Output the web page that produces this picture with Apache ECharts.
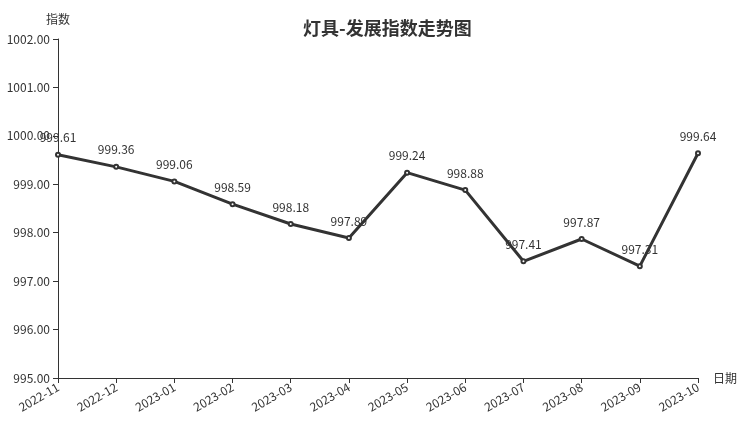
<!DOCTYPE html>
<html><head><meta charset="utf-8">
<script src="https://cdn.jsdelivr.net/npm/echarts@6/dist/echarts.min.js"></script>
<style>html,body{margin:0;padding:0;background:#fff}#c{width:752px;height:427px}</style>
</head><body><div id="c"></div>
<script>
const categories = ['2022-11','2022-12','2023-01','2023-02','2023-03','2023-04','2023-05','2023-06','2023-07','2023-08','2023-09','2023-10'];
const values = [999.61, 999.36, 999.06, 998.59, 998.18, 997.89, 999.24, 998.88, 997.41, 997.87, 997.31, 999.64];
const yTicks = { min: 995, max: 1002, interval: 1 };
const FONT = '"Noto Sans CJK SC", "Noto Sans", sans-serif';
const chart = echarts.init(document.getElementById('c'));
chart.setOption({
  animation: false,
  textStyle: { fontFamily: FONT },
  title: {
    text: '灯具-发展指数走势图',
    left: 298, top: 14,
    textStyle: { fontSize: 18, fontWeight: 'bold', color: '#333', fontFamily: FONT }
  },
  grid: { left: 58, right: 54, top: 39, bottom: 49, containLabel: false },
  xAxis: {
    type: 'category', data: categories, boundaryGap: false,
    name: '日期', nameGap: 15,
    nameTextStyle: { color: '#333', fontSize: 12 },
    axisLine: { lineStyle: { color: '#333' } },
    axisTick: { show: true, alignWithLabel: true, lineStyle: { color: '#333' } },
    axisLabel: { rotate: 30, color: '#333', fontSize: 12, interval: 0 }
  },
  yAxis: {
    type: 'value', min: yTicks.min, max: yTicks.max, interval: yTicks.interval,
    name: '指数', nameGap: 14,
    nameTextStyle: { color: '#333', fontSize: 12 },
    axisLine: { show: true, lineStyle: { color: '#333' } },
    axisTick: { show: true, lineStyle: { color: '#333' } },
    splitLine: { show: false },
    axisLabel: { color: '#333', fontSize: 12, formatter: v => v.toFixed(2) }
  },
  series: [{
    type: 'line', data: values,
    symbol: 'emptyCircle', symbolSize: 4,
    lineStyle: { color: '#333', width: 3 },
    itemStyle: { color: '#333', borderWidth: 1 },
    label: { show: true, position: 'top', distance: 8, color: '#333', fontSize: 12, formatter: p => p.value.toFixed(2) }
  }]
});
</script></body></html>
